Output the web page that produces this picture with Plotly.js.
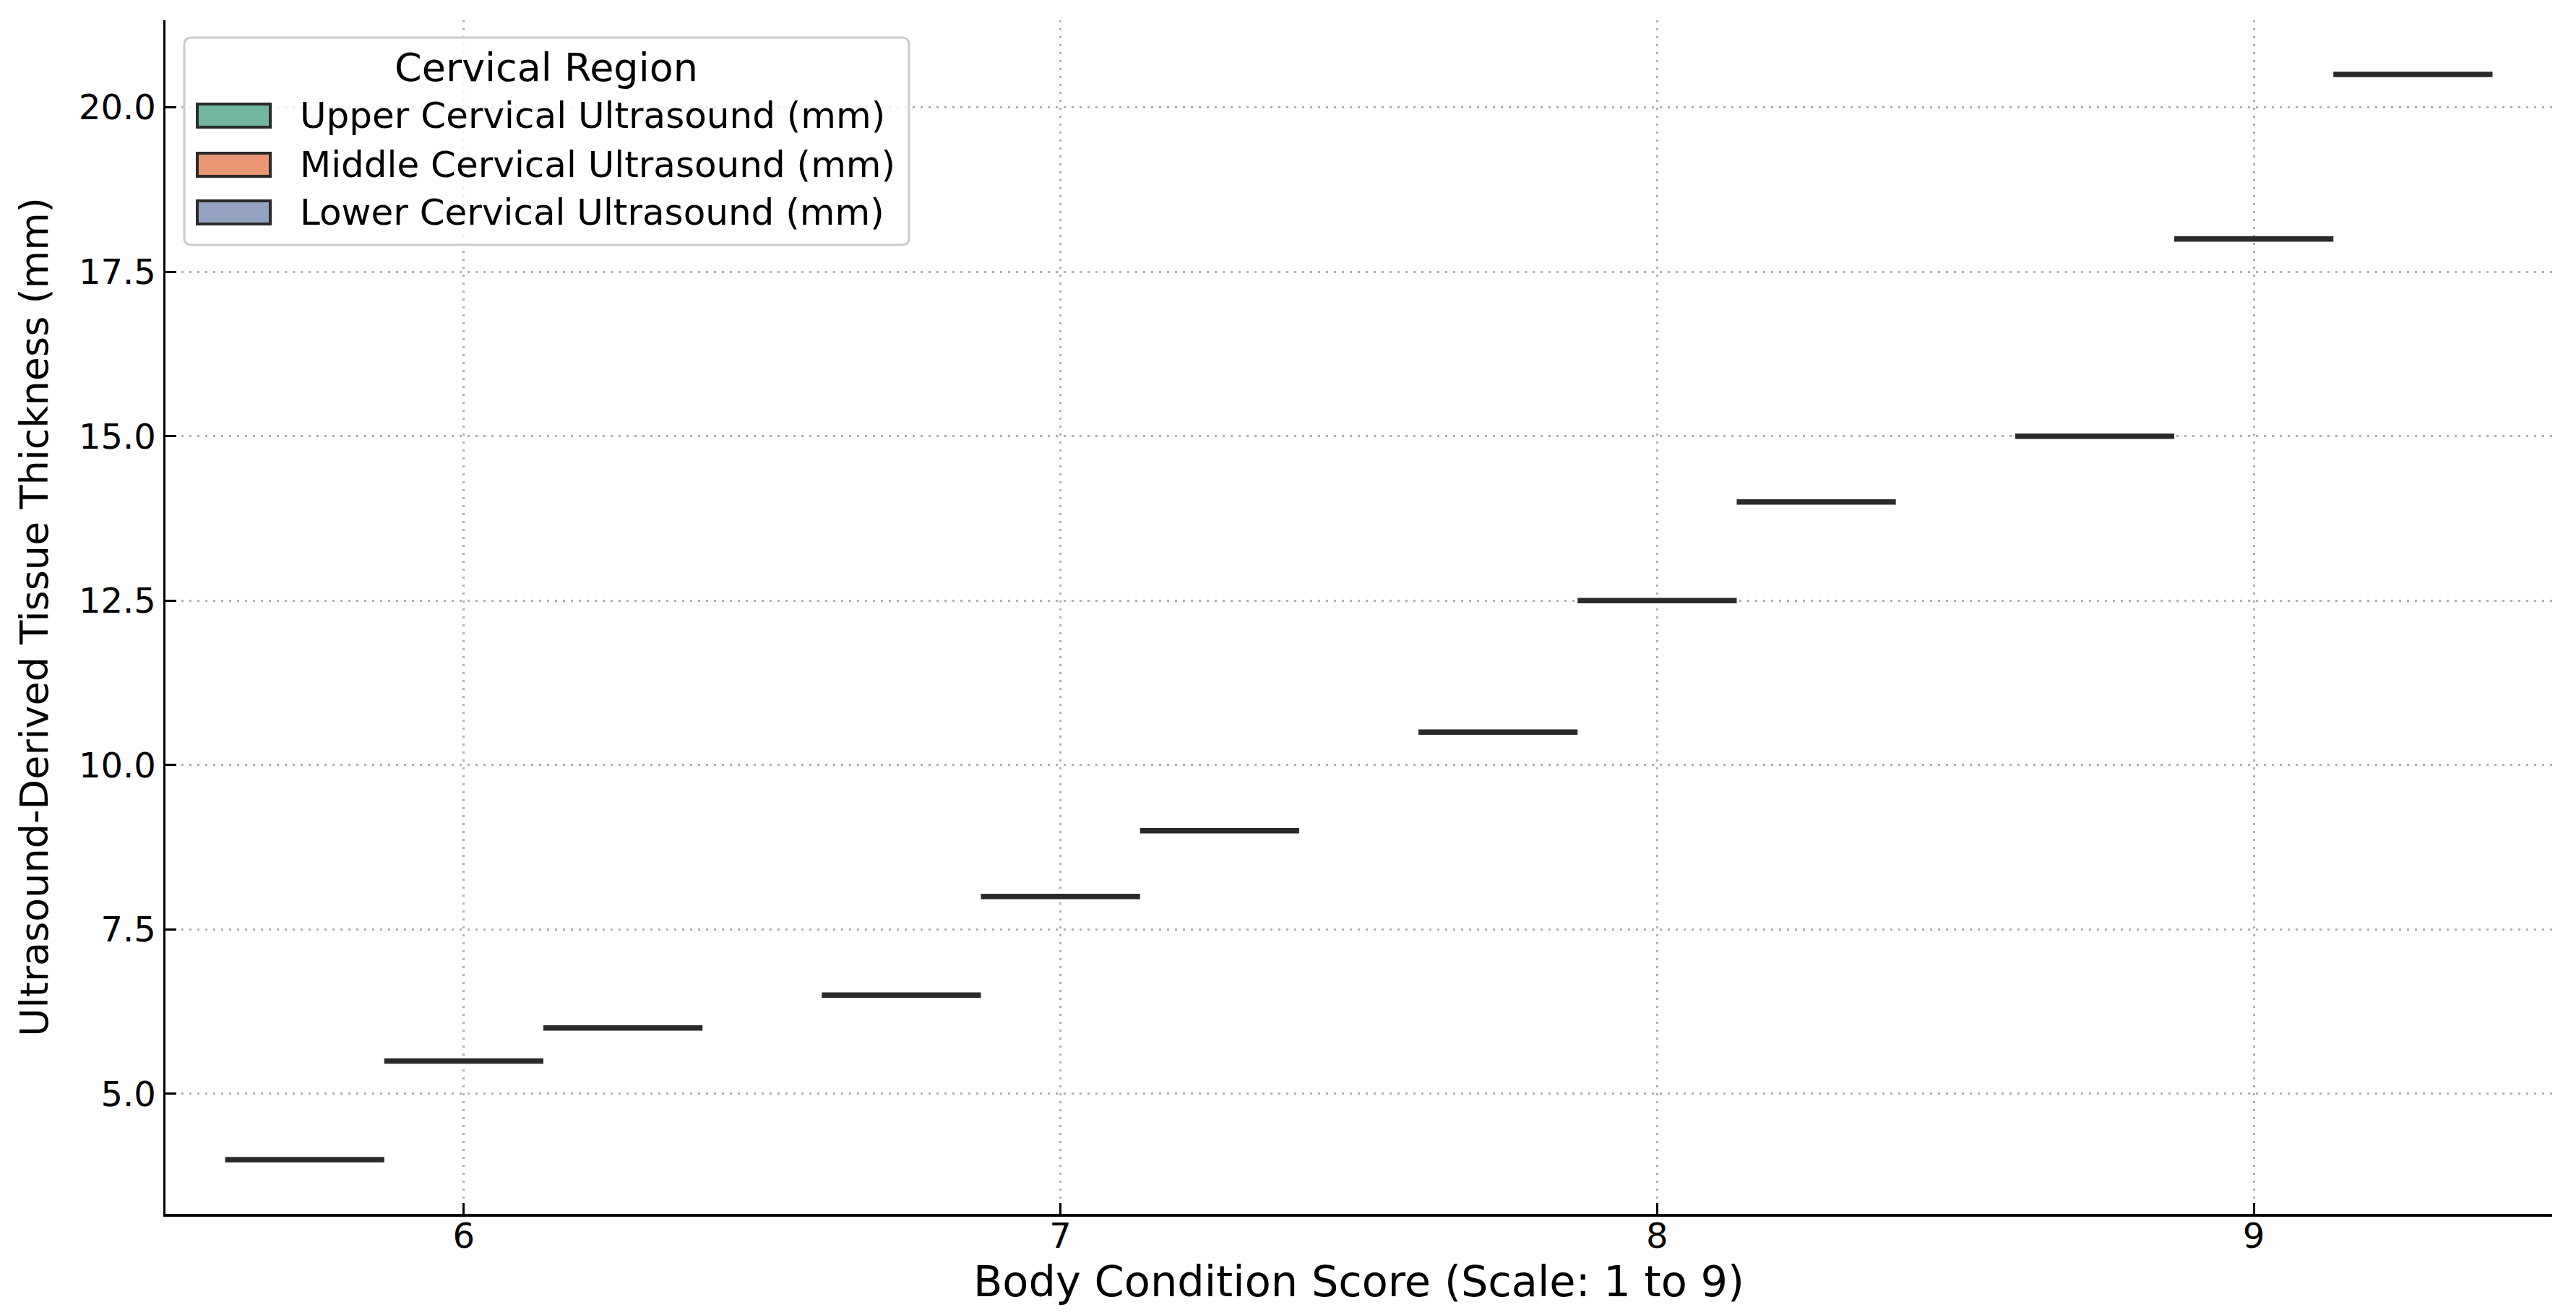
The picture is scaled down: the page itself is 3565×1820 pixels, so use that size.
<!DOCTYPE html>
<html>
<head>
<meta charset="utf-8">
<script src="https://cdn.plot.ly/plotly-3.0.1.min.js"></script>
<style>
  html, body { margin: 0; padding: 0; background: #ffffff; }
  #chart { width: 3565px; height: 1820px; }
</style>
</head>
<body>
<div id="chart"></div>
<script>
// ---- data ----
const categories = ['6', '7', '8', '9'];
const upperValues = [4.0, 6.5, 10.5, 15.0];
const middleValues = [5.5, 8.0, 12.5, 18.0];
const lowerValues = [6.0, 9.0, 14.0, 20.5];
const seriesNames = ['Upper Cervical Ultrasound (mm)', 'Middle Cervical Ultrasound (mm)', 'Lower Cervical Ultrasound (mm)'];
const seriesColors = ['#72b6a1', '#e99675', '#95a3c3'];
const legendTitle = 'Cervical Region';
const xTitle = 'Body Condition Score (Scale: 1 to 9)';
const yTitle = 'Ultrasound-Derived Tissue Thickness (mm)';

const seriesValues = [upperValues, middleValues, lowerValues];

// ---- layout geometry (plot area in pixels) ----
const W = 3565, H = 1820;
const L = 229, R = 3532, T = 28, B = 1680;
const px2x = v => (v - L) / (R - L);
const px2y = v => (B - v) / (B - T);
const FONT = 'DejaVu Sans, Liberation Sans, sans-serif';

const traces = seriesValues.map((vals, i) => ({
  type: 'box',
  name: seriesNames[i],
  x: categories,
  y: vals,
  fillcolor: seriesColors[i],
  line: { color: '#2a2a2a', width: 7.5 },
  whiskerwidth: 0,
  boxpoints: false,
  showlegend: false,
  hoverinfo: 'y'
}));

// ---- manual legend (matplotlib-style) ----
function roundRectPath(x0, y0, x1, y1, r) {
  const P = (x, y) => px2x(x) + ',' + px2y(y);
  return 'M' + P(x0 + r, y0) + ' L' + P(x1 - r, y0) + ' Q' + P(x1, y0) + ' ' + P(x1, y0 + r) +
    ' L' + P(x1, y1 - r) + ' Q' + P(x1, y1) + ' ' + P(x1 - r, y1) +
    ' L' + P(x0 + r, y1) + ' Q' + P(x0, y1) + ' ' + P(x0, y1 - r) +
    ' L' + P(x0, y0 + r) + ' Q' + P(x0, y0) + ' ' + P(x0 + r, y0) + ' Z';
}
const shapes = [{
  type: 'path', xref: 'paper', yref: 'paper', layer: 'above',
  path: roundRectPath(255, 52, 1258, 339, 10),
  fillcolor: 'rgba(255,255,255,0.8)',
  line: { color: '#cccccc', width: 3 }
}];
const annotations = [{
  xref: 'paper', yref: 'paper', x: px2x(756), y: px2y(93),
  xanchor: 'center', yanchor: 'middle', showarrow: false,
  text: legendTitle, font: { family: FONT, size: 54, color: '#000' }
}];
const rowCenters = [160, 228, 294];
seriesNames.forEach((name, i) => {
  const cy = rowCenters[i];
  shapes.push({
    type: 'rect', xref: 'paper', yref: 'paper', layer: 'above',
    x0: px2x(273), x1: px2x(374), y0: px2y(cy - 16), y1: px2y(cy + 16),
    fillcolor: seriesColors[i], line: { color: '#2a2a2a', width: 4 }
  });
  annotations.push({
    xref: 'paper', yref: 'paper', x: px2x(413), y: px2y(cy),
    xanchor: 'left', yanchor: 'middle', showarrow: false,
    text: name, font: { family: FONT, size: 50, color: '#000' }
  });
});

const layout = {
  width: W, height: H,
  margin: { l: L, r: W - R, t: T, b: H - B, pad: 0 },
  paper_bgcolor: '#ffffff', plot_bgcolor: '#ffffff',
  font: { family: FONT, color: '#000' },
  boxmode: 'group', boxgap: 0.2, boxgroupgap: 0,
  showlegend: false,
  xaxis: {
    type: 'category', range: [-0.5, 3.5],
    showline: true, linecolor: '#000', linewidth: 3.5,
    ticks: 'inside', ticklen: 15, tickwidth: 3, tickcolor: '#000',
    ticklabelstandoff: -14,
    tickfont: { family: FONT, size: 48, color: '#000' },
    showgrid: true, gridcolor: '#b0b0b0', gridwidth: 3, griddash: '3px,8px',
    zeroline: false, automargin: false,
    title: { text: xTitle, font: { family: FONT, size: 59, color: '#000' }, standoff: 16 }
  },
  yaxis: {
    range: [3.175, 21.325], tick0: 0, dtick: 2.5, tickformat: '.1f',
    showline: true, linecolor: '#000', linewidth: 3.5,
    ticks: 'inside', ticklen: 15, tickwidth: 3, tickcolor: '#000',
    tickfont: { family: FONT, size: 48, color: '#000' },
    showgrid: true, gridcolor: '#b0b0b0', gridwidth: 3, griddash: '3px,8px',
    zeroline: false, automargin: false,
    title: { text: yTitle, font: { family: FONT, size: 54, color: '#000' }, standoff: 26 }
  },
  shapes: shapes,
  annotations: annotations
};

Plotly.newPlot('chart', traces, layout, { staticPlot: true, displayModeBar: false });
</script>
</body>
</html>
